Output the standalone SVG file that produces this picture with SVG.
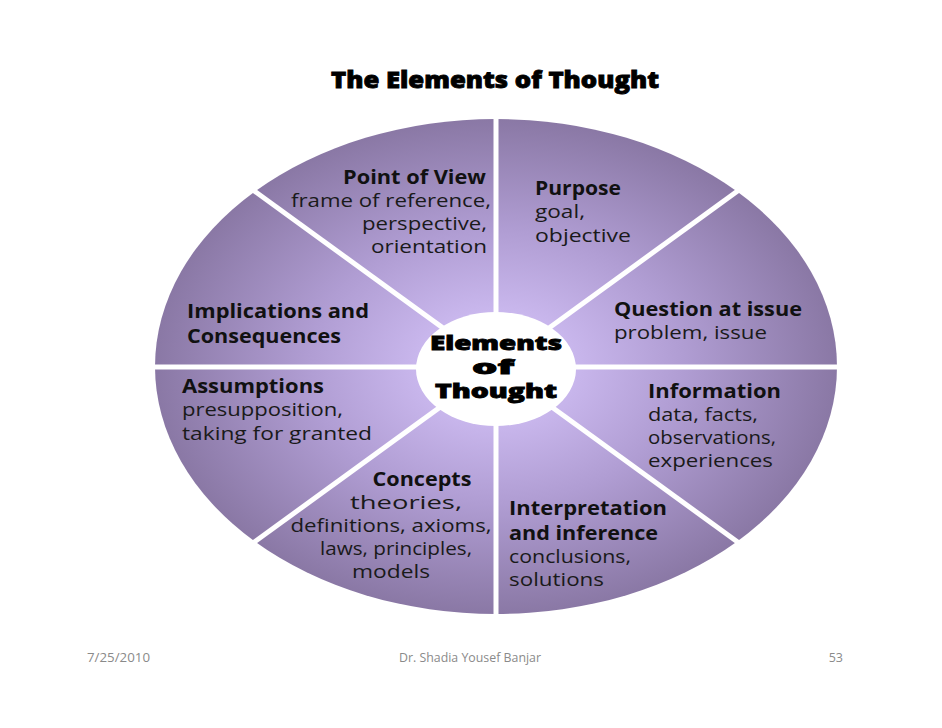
<svg xmlns="http://www.w3.org/2000/svg" width="942" height="728" viewBox="0 0 942 728">
<defs>
<radialGradient id="sec" gradientUnits="userSpaceOnUse" cx="496" cy="366.5" r="341" gradientTransform="translate(496,366.5) scale(1,0.726) translate(-496,-366.5)">
<stop offset="0.2" stop-color="#cbb9ef"/>
<stop offset="0.55" stop-color="#b09dd3"/>
<stop offset="1" stop-color="#8a78a5"/>
</radialGradient>
<style>
.h{font-family:"Open Sans","DejaVu Sans",sans-serif;font-weight:700;font-size:19px;fill:#111;}
.b{font-family:"Open Sans","DejaVu Sans",sans-serif;font-weight:400;font-size:18px;fill:#1a1a1a;}
.k{font-family:"Open Sans","DejaVu Sans",sans-serif;font-weight:800;fill:#000;stroke:#000;stroke-width:0.8;}
.f{font-family:"Open Sans","Liberation Sans",sans-serif;font-size:12.5px;fill:#8a8a8a;}
.sep{stroke:#fff;stroke-width:5;fill:none;}
</style>
</defs>
<rect width="942" height="728" fill="#fff"/>
<text class="k" x="495" y="88" text-anchor="middle" font-size="22" textLength="328" lengthAdjust="spacingAndGlyphs">The Elements of Thought</text>
<g id="wheel">
<ellipse cx="496" cy="366.5" rx="341" ry="247.5" fill="url(#sec)"/>
</g>
<g id="connectors">
<line class="sep" x1="496" y1="105" x2="496" y2="628"/>
<line class="sep" x1="145" y1="367" x2="847" y2="367"/>
<line class="sep" x1="241" y1="181.3" x2="751" y2="551.7"/>
<line class="sep" x1="751" y1="181.3" x2="241" y2="551.7"/>
</g>
<g id="center">
<ellipse cx="496" cy="369" rx="80" ry="57" fill="#fff"/>
<text class="k" x="496" y="350" text-anchor="middle" font-size="19" textLength="132" lengthAdjust="spacingAndGlyphs">Elements</text>
<text class="k" x="493" y="374" text-anchor="middle" font-size="19" textLength="42" lengthAdjust="spacingAndGlyphs">of</text>
<text class="k" x="496" y="398" text-anchor="middle" font-size="19" textLength="122" lengthAdjust="spacingAndGlyphs">Thought</text>
</g>
<g id="point-of-view" text-anchor="end">
<text class="h" x="486" y="184" textLength="143" lengthAdjust="spacingAndGlyphs">Point of View</text>
<text class="b" x="491" y="207" textLength="200" lengthAdjust="spacingAndGlyphs">frame of reference,</text>
<text class="b" x="487" y="230" textLength="125" lengthAdjust="spacingAndGlyphs">perspective,</text>
<text class="b" x="487" y="253" textLength="116" lengthAdjust="spacingAndGlyphs">orientation</text>
</g>
<g id="purpose">
<text class="h" x="535" y="195" textLength="86" lengthAdjust="spacingAndGlyphs">Purpose</text>
<text class="b" x="535" y="218" textLength="50" lengthAdjust="spacingAndGlyphs">goal,</text>
<text class="b" x="535" y="242" textLength="96" lengthAdjust="spacingAndGlyphs">objective</text>
</g>
<g id="question">
<text class="h" x="614" y="316" textLength="188" lengthAdjust="spacingAndGlyphs">Question at issue</text>
<text class="b" x="614" y="339" textLength="153" lengthAdjust="spacingAndGlyphs">problem, issue</text>
</g>
<g id="implications">
<text class="h" x="187" y="318" textLength="182" lengthAdjust="spacingAndGlyphs">Implications and</text>
<text class="h" x="187" y="343" textLength="154" lengthAdjust="spacingAndGlyphs">Consequences</text>
</g>
<g id="assumptions">
<text class="h" x="182" y="393" textLength="142" lengthAdjust="spacingAndGlyphs">Assumptions</text>
<text class="b" x="182" y="416" textLength="161" lengthAdjust="spacingAndGlyphs">presupposition,</text>
<text class="b" x="182" y="440" textLength="190" lengthAdjust="spacingAndGlyphs">taking for granted</text>
</g>
<g id="information">
<text class="h" x="648" y="398" textLength="133" lengthAdjust="spacingAndGlyphs">Information</text>
<text class="b" x="648" y="421" textLength="110" lengthAdjust="spacingAndGlyphs">data, facts,</text>
<text class="b" x="648" y="444" textLength="128" lengthAdjust="spacingAndGlyphs">observations,</text>
<text class="b" x="648" y="467" textLength="125" lengthAdjust="spacingAndGlyphs">experiences</text>
</g>
<g id="concepts" text-anchor="middle">
<text class="h" x="422" y="486" textLength="99" lengthAdjust="spacingAndGlyphs">Concepts</text>
<text class="b" x="406" y="509" textLength="112" lengthAdjust="spacingAndGlyphs">theories,</text>
<text class="b" x="391" y="532" textLength="201" lengthAdjust="spacingAndGlyphs">definitions, axioms,</text>
<text class="b" x="396" y="555" textLength="152" lengthAdjust="spacingAndGlyphs">laws, principles,</text>
<text class="b" x="391" y="578" textLength="78" lengthAdjust="spacingAndGlyphs">models</text>
</g>
<g id="interpretation">
<text class="h" x="509" y="515" textLength="158" lengthAdjust="spacingAndGlyphs">Interpretation</text>
<text class="h" x="509" y="540" textLength="149" lengthAdjust="spacingAndGlyphs">and inference</text>
<text class="b" x="509" y="563" textLength="122" lengthAdjust="spacingAndGlyphs">conclusions,</text>
<text class="b" x="509" y="586" textLength="95" lengthAdjust="spacingAndGlyphs">solutions</text>
</g>
<g id="footer">
<text class="f" x="87" y="662" textLength="63" lengthAdjust="spacingAndGlyphs">7/25/2010</text>
<text class="f" x="470" y="662" text-anchor="middle" textLength="142" lengthAdjust="spacingAndGlyphs">Dr. Shadia Yousef Banjar</text>
<text class="f" x="843" y="662" text-anchor="end">53</text>
</g>
</svg>
